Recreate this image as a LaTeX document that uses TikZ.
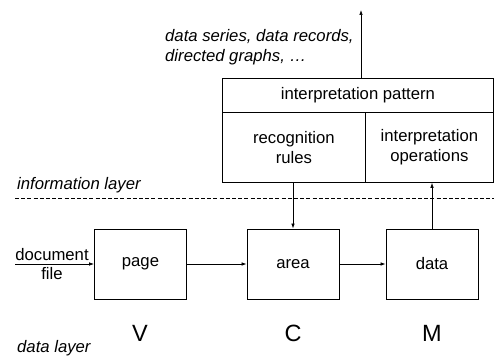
\documentclass[tikz,border=0pt]{standalone}
\usepackage{fontspec}
\setmainfont{Liberation Sans}
\usetikzlibrary{arrows.meta}
\begin{document}
\begin{tikzpicture}[x=1pt,y=-1pt,
  every node/.style={font=\fontsize{16.7}{19.5}\selectfont},
  box/.style={draw, line width=0.8pt, inner sep=0pt, align=center},
  arr/.style={line width=0.7pt, -{Latex[length=5pt,width=3.5pt]}},
  lbl/.style={inner sep=0pt, align=left, font=\fontsize{16.7}{20}\selectfont\itshape},
  big/.style={inner sep=0pt, font=\fontsize{23.5}{26}\selectfont}]
\useasboundingbox (0,0) rectangle (494,363);
% information layer
\node[box, minimum width=271pt, minimum height=34pt, anchor=north west] (pat) at (222,78) {interpretation pattern};
\node[box, minimum width=143pt, minimum height=70pt, anchor=north west] (rules) at (222,112) {recognition\\rules};
\node[box, minimum width=128pt, minimum height=70pt, anchor=north west] (ops) at (365,112) {interpretation\\operations};
\coordinate (out) at (361,10);
\draw[arr] (out |- pat.north) -- (out);
\node[lbl, anchor=west] (res) at (165,47) {data series, data records,\\directed graphs, \dots};
\node[lbl, anchor=west] (info) at (17,185) {information layer};
\draw[line width=0.7pt, dash pattern=on 4pt off 2.2pt] (15,198) -- (494,198);
% data layer
\node[box, minimum width=92pt, minimum height=70pt] (page) at (140.5,264) {page};
\node[box, minimum width=92pt, minimum height=70pt] (area) at (293,264) {area};
\node[box, minimum width=92pt, minimum height=70pt] (data) at (432,264) {data};
\coordinate (in) at (15,264);
\node[inner sep=0pt, align=center] (doc) at (52,264) {document\\file};
\draw[arr] (in) -- (page.west);
\draw[arr] (page) -- (area);
\draw[arr] (area) -- (data);
\draw[arr] (area.north |- rules.south) -- (area.north);
\draw[arr] (data.north) -- (data.north |- ops.south);
\node[big] (v) at (140,333) {V};
\node[big] (c) at (293,333) {C};
\node[big] (m) at (432,333) {M};
\node[lbl, anchor=west] (dl) at (17,348) {data layer};
\end{tikzpicture}
\end{document}
